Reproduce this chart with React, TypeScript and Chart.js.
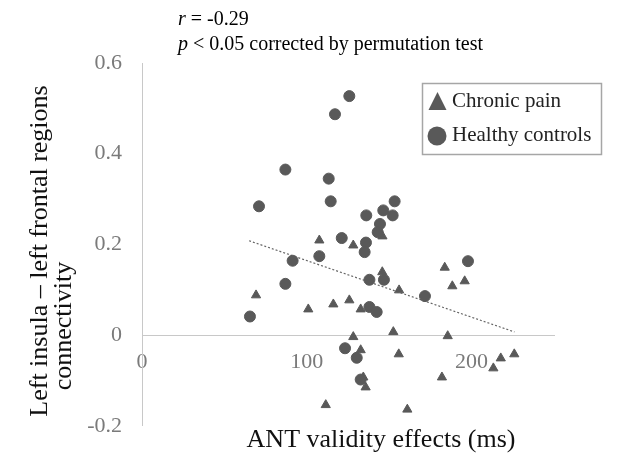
import React, { useEffect, useRef } from 'react';
import { Chart, registerables } from 'chart.js';

Chart.register(...registerables);

// ---- data ----
const X_TICKS = [0, 100, 200];
const Y_TICKS = [-0.2, 0, 0.2, 0.4, 0.6];
const X_MIN = 0;
const X_MAX = 250;
const Y_MIN = -0.2;
const Y_MAX = 0.6;

const PAIN_X = [145.9, 107.6, 128.2, 145.8, 156.0, 69.2, 183.7, 188.3, 195.8, 100.9, 116.1, 125.8, 132.7, 152.5, 128.2, 132.7, 155.8, 134.3, 135.7, 111.5, 161.0, 185.5, 182.0, 213.2, 217.7, 225.9];
const PAIN_Y = [0.218, 0.209, 0.198, 0.139, 0.099, 0.088, 0.149, 0.108, 0.119, 0.057, 0.068, 0.077, 0.057, 0.007, -0.004, -0.033, -0.042, -0.093, -0.115, -0.154, -0.164, -0.002, -0.093, -0.073, -0.051, -0.042];

const HEALTHY_X = [125.8, 117.1, 87.0, 113.3, 71.0, 114.5, 153.3, 146.4, 152.1, 136.1, 144.4, 143.0, 121.2, 135.9, 135.1, 91.4, 107.6, 138.0, 146.8, 87.0, 197.8, 171.7, 65.5, 138.0, 142.4, 123.2, 130.3, 132.7];
const HEALTHY_Y = [0.527, 0.487, 0.365, 0.345, 0.284, 0.295, 0.295, 0.275, 0.264, 0.264, 0.245, 0.227, 0.214, 0.204, 0.183, 0.164, 0.174, 0.122, 0.122, 0.113, 0.163, 0.086, 0.041, 0.062, 0.051, -0.029, -0.050, -0.098];

const TREND_X = [65, 226];
const TREND_Y = [0.208, 0.007];

const LEGEND_LABELS = ['Chronic pain', 'Healthy controls'];
const X_TITLE = 'ANT validity effects (ms)';
const Y_TITLE = ['Left insula \u2013 left frontal regions', 'connectivity'];
const STAT_LINE1: [string, boolean][] = [['r', true], [' = -0.29', false]];
const STAT_LINE2: [string, boolean][] = [['p', true], [' < 0.05 corrected by permutation test', false]];

const SERIF = "'Liberation Serif', 'Times New Roman', serif";
const MARK = '#595959';
const AXIS_GREY = '#c8c8c8';

const toPts = (xs: number[], ys: number[]) => xs.map((x, i) => ({ x, y: ys[i] }));

const drawRuns = (ctx: CanvasRenderingContext2D, runs: [string, boolean][], x: number, y: number, size: number) => {
  let cx = x;
  for (const [t, it] of runs) {
    ctx.font = `${it ? 'italic ' : ''}${size}px ${SERIF}`;
    ctx.fillText(t, cx, y);
    cx += ctx.measureText(t).width;
  }
};

const textPlugin = {
  id: 'textPlugin',
  afterDraw(chart: any) {
    const ctx: CanvasRenderingContext2D = chart.ctx;
    ctx.save();
    // statistics annotation
    ctx.fillStyle = '#000';
    ctx.textAlign = 'left';
    ctx.textBaseline = 'alphabetic';
    drawRuns(ctx, STAT_LINE1, 178, 25, 20);
    drawRuns(ctx, STAT_LINE2, 178, 50, 20);

    // x title
    ctx.font = `26px ${SERIF}`;
    ctx.textAlign = 'center';
    ctx.fillStyle = '#111';
    ctx.fillText(X_TITLE, 381, 447);

    // y title (rotated)
    ctx.textBaseline = 'middle';
    ctx.save();
    ctx.translate(40, 251);
    ctx.rotate(-Math.PI / 2);
    ctx.fillText(Y_TITLE[0], 0, 0);
    ctx.restore();
    ctx.save();
    ctx.translate(64, 326);
    ctx.rotate(-Math.PI / 2);
    ctx.fillText(Y_TITLE[1], 0, 0);
    ctx.restore();

    // legend box
    ctx.strokeStyle = '#a6a6a6';
    ctx.lineWidth = 1.5;
    ctx.strokeRect(422.5, 83.5, 179, 71);
    ctx.fillStyle = MARK;
    ctx.beginPath();
    ctx.moveTo(437.5, 92);
    ctx.lineTo(446.5, 110);
    ctx.lineTo(428.5, 110);
    ctx.closePath();
    ctx.fill();
    ctx.beginPath();
    ctx.arc(437, 136, 9.5, 0, Math.PI * 2);
    ctx.fill();
    ctx.fillStyle = '#222';
    ctx.textAlign = 'left';
    ctx.textBaseline = 'alphabetic';
    ctx.font = `21px ${SERIF}`;
    ctx.fillText(LEGEND_LABELS[0], 452, 107);
    ctx.fillText(LEGEND_LABELS[1], 452, 141);
    ctx.restore();
  },
};

export default function App() {
  const ref = useRef<HTMLCanvasElement | null>(null);
  useEffect(() => {
    document.body.style.margin = '0';
    const canvas = ref.current;
    if (!canvas) return;
    const chart = new Chart(canvas, {
      type: 'scatter',
      data: {
        datasets: [
          {
            label: LEGEND_LABELS[1],
            data: toPts(HEALTHY_X, HEALTHY_Y),
            pointStyle: 'circle',
            pointRadius: 5.5,
            borderWidth: 1,
            backgroundColor: MARK,
            borderColor: MARK,
          },
          {
            label: LEGEND_LABELS[0],
            data: toPts(PAIN_X, PAIN_Y),
            pointStyle: 'triangle',
            pointRadius: 5.3,
            borderWidth: 1,
            backgroundColor: MARK,
            borderColor: MARK,
          },
          {
            label: 'trend',
            data: toPts(TREND_X, TREND_Y),
            showLine: true,
            pointRadius: 0,
            borderColor: '#666',
            borderWidth: 1.2,
            borderDash: [2, 2],
          },
        ],
      },
      options: {
        responsive: false,
        animation: false,
        layout: { padding: { top: 63, right: 85, bottom: 31, left: 0 } },
        plugins: { legend: { display: false }, tooltip: { enabled: false }, title: { display: false } },
        scales: {
          x: {
            type: 'linear',
            min: X_MIN,
            max: X_MAX,
            position: { y: 0 } as any,
            afterBuildTicks: (s: any) => {
              s.ticks = X_TICKS.map((v) => ({ value: v }));
            },
            afterFit: (s: any) => {
              s.height = 0;
            },
            grid: { display: true, drawOnChartArea: false, drawTicks: false },
            border: { display: true, color: AXIS_GREY, width: 1 },
            ticks: {
              padding: 14,
              color: '#7a7a7a',
              font: { family: SERIF, size: 22 },
              callback: (v: any) => String(v),
              maxRotation: 0,
            },
          },
          y: {
            type: 'linear',
            min: Y_MIN,
            max: Y_MAX,
            position: 'left',
            afterBuildTicks: (s: any) => {
              s.ticks = Y_TICKS.map((v) => ({ value: v }));
            },
            afterFit: (s: any) => {
              s.width = 142;
            },
            grid: { display: true, drawOnChartArea: false, drawTicks: false },
            border: { display: true, color: AXIS_GREY, width: 1 },
            ticks: {
              padding: 20,
              color: '#7a7a7a',
              font: { family: SERIF, size: 22 },
              callback: (v: any) => String(v),
            },
          },
        },
      },
      plugins: [textPlugin],
    });
    return () => chart.destroy();
  }, []);
  return (
    <div style={{ position: 'fixed', left: 0, top: 0, width: 639, height: 459, background: '#fff' }}>
      <canvas ref={ref} width={639} height={459} style={{ display: 'block' }} />
    </div>
  );
}
